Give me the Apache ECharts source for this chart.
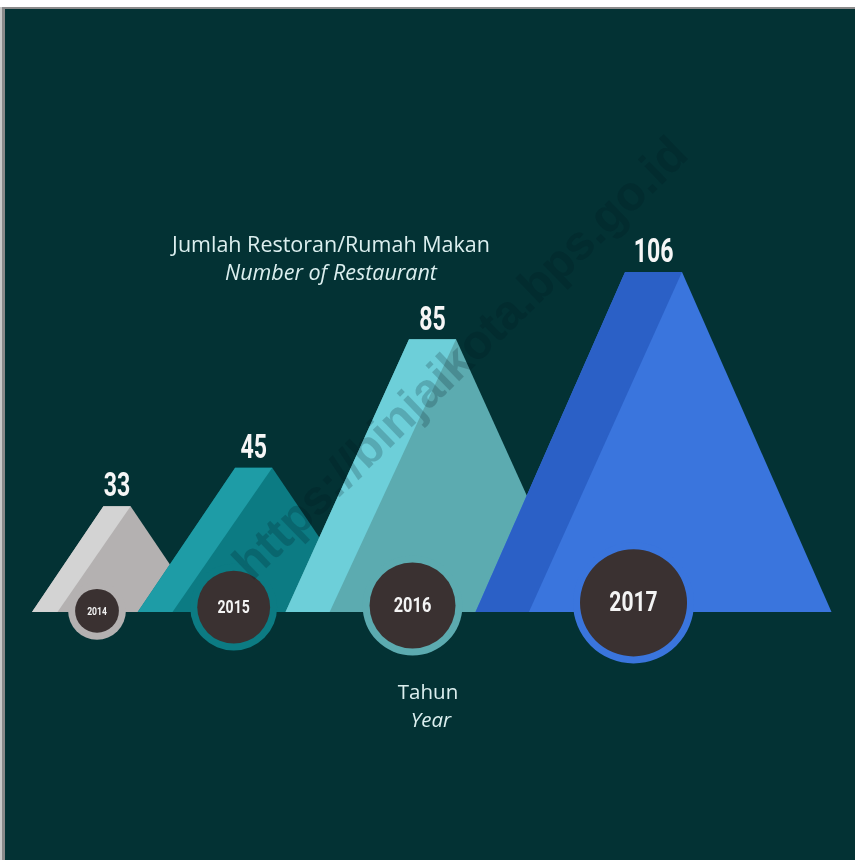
<!DOCTYPE html>
<html>
<head>
<meta charset="utf-8">
<script src="https://cdn.jsdelivr.net/npm/echarts@6/dist/echarts.min.js"></script>
<style>
  html, body { margin: 0; padding: 0; background: #ffffff; }
  #chart { width: 855px; height: 860px; }
</style>
</head>
<body>
<div id="chart"></div>
<script>
// Number of restaurants per year
const years = ['2014', '2015', '2016', '2017'];
const restaurants = [33, 45, 85, 106];
const titleLines = ['Jumlah Restoran/Rumah Makan', 'Number of Restaurant'];
const axisLines = ['Tahun', 'Year'];
const watermark = 'https://binjaikota.bps.go.id';

const BG = '#033234';
const faceColors = ['#b4b1b1', '#0c7b83', '#5cabb0', '#3a75dd'];
const edgeColors = ['#d3d3d3', '#1e9ca6', '#6dcfd9', '#2b60c6'];
const badgeColor = '#3a3131';
const textColor = '#dcefef';
const DIGITS = 'Roboto, "Liberation Sans", sans-serif';
const SANS = '"Open Sans", "Noto Sans", sans-serif';

// each peak's half base grows with its place in the row; neighbours overlap
function halfBase(i) { return 85 + 31 * i; }
const OVERLAP = 0.68;
function peakCentre(left, i) {
  let x = left + halfBase(0);
  for (let j = 1; j <= i; j++) x += OVERLAP * (halfBase(j - 1) + halfBase(j));
  return x;
}

function peakGeometry(params, api) {
  const i = params.dataIndex;
  const origin = api.coord([0, 0]);
  const baseY = origin[1];
  const topY = api.coord([i, api.value(1)])[1];
  const h = halfBase(i);
  const cx = peakCentre(origin[0], i);
  return { i, baseY, topY, h, cx };
}

function renderPeak(params, api) {
  const g = peakGeometry(params, api);
  const th = 0.16 * g.h;
  const L = [g.cx - g.h, g.baseY];
  const TL = [g.cx - th, g.topY];
  const TR = [g.cx + th, g.topY];
  const R = [g.cx + g.h, g.baseY];
  const S = [g.cx - 0.7 * g.h, g.baseY];
  return {
    type: 'group',
    children: [
      { type: 'polygon', shape: { points: [L, TL, TR, R] }, style: { fill: faceColors[g.i] } },
      { type: 'polygon', shape: { points: [L, TL, TR, S] }, style: { fill: edgeColors[g.i] } }
    ]
  };
}

function renderBadge(params, api) {
  const g = peakGeometry(params, api);
  const outer = 0.34 * g.h + (g.i === 1 ? 4 : 0);
  const inner = outer - 7;
  const bx = g.cx - 20;
  const by = g.baseY + 6 - 0.25 * outer;
  return {
    type: 'group',
    children: [
      { type: 'circle', shape: { cx: bx, cy: by, r: outer }, style: { fill: faceColors[g.i] } },
      { type: 'circle', shape: { cx: bx, cy: by, r: inner }, style: { fill: badgeColor } },
      {
        type: 'text', x: bx, y: by + 1, scaleX: 0.78,
        style: {
          text: years[g.i], x: 0, y: 0, align: 'center', verticalAlign: 'middle',
          fill: '#f4f4f4', fontFamily: DIGITS, fontWeight: 'bold',
          fontSize: Math.round(0.5 * inner)
        }
      },
      {
        type: 'text', x: g.cx, y: g.topY - 18, scaleX: 0.7,
        style: {
          text: String(api.value(1)), x: 0, y: 0, align: 'center', verticalAlign: 'middle',
          fill: '#f6f6f6', fontFamily: DIGITS, fontWeight: 'bold', fontSize: 33
        }
      }
    ]
  };
}

const chart = echarts.init(document.getElementById('chart'), null, { renderer: 'canvas' });
chart.setOption({
  backgroundColor: BG,
  animation: false,
  grid: { left: 32, right: 22, top: 272, bottom: 248 },
  xAxis: { type: 'category', data: years, boundaryGap: false, show: false },
  yAxis: { type: 'value', min: 0, max: v => v.max, show: false },
  graphic: [
    { type: 'rect', z: -10, shape: { x: 0, y: 0, width: 855, height: 7 }, style: { fill: '#ffffff' } },
    { type: 'rect', z: -10, shape: { x: 0, y: 7, width: 855, height: 2 }, style: { fill: '#8a8a8a' } },
    { type: 'rect', z: -10, shape: { x: 0, y: 7, width: 2, height: 853 }, style: { fill: '#c8c8c8' } },
    { type: 'rect', z: -10, shape: { x: 2, y: 7, width: 3, height: 853 }, style: { fill: '#8a8a8a' } },
    {
      type: 'text', x: 331, y: 246,
      style: { text: titleLines[0], align: 'center', verticalAlign: 'middle', fill: textColor, font: '21.5px ' + SANS }
    },
    {
      type: 'text', x: 331, y: 274,
      style: { text: titleLines[1], align: 'center', verticalAlign: 'middle', fill: textColor, font: 'italic 21.5px ' + SANS }
    },
    {
      type: 'text', x: 428, y: 693,
      style: { text: axisLines[0], align: 'center', verticalAlign: 'middle', fill: textColor, font: '20.5px ' + SANS }
    },
    {
      type: 'text', x: 431, y: 721,
      style: { text: axisLines[1], align: 'center', verticalAlign: 'middle', fill: textColor, font: 'italic 20.5px ' + SANS }
    },
    {
      type: 'text', z: 100, x: 462, y: 360, rotation: 0.77,
      style: {
        text: watermark, align: 'center', verticalAlign: 'middle',
        fill: 'rgba(0, 20, 30, 0.2)', font: 'bold 48px "Liberation Sans", Arial, sans-serif'
      }
    }
  ],
  series: [
    { type: 'custom', data: restaurants, renderItem: renderPeak, z: 2 },
    { type: 'custom', data: restaurants, renderItem: renderBadge, z: 3 }
  ]
});
</script>
</body>
</html>
